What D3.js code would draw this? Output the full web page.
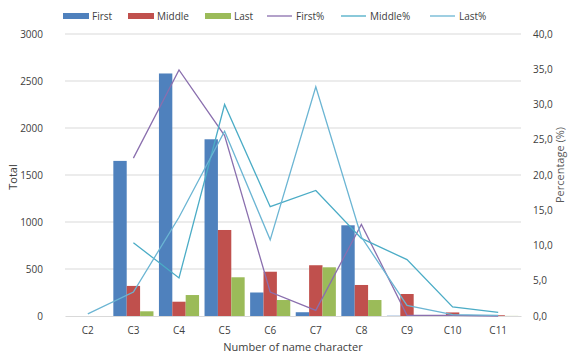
<!DOCTYPE html>
<html><head><meta charset="utf-8">
<script src="https://cdn.jsdelivr.net/npm/d3@7/dist/d3.min.js"></script>
<style>body{margin:0;background:#fff}svg{display:block}text{font-family:"Open Sans",sans-serif}</style>
</head><body>
<svg id="c" width="570" height="353"></svg>
<script>
const categories = ["C2","C3","C4","C5","C6","C7","C8","C9","C10","C11"];
const first  = [0,1650,2580,1880,250,40,965,3,5,2];
const middle = [0,320,152,915,471,540,330,234,38,8];
const last   = [0,50,223,412,170,518,170,10,3,1];
const firstPct  = [null,22.4,34.9,25.6,3.4,0.8,13.0,0.1,0.1,0.0];
const middlePct = [null,10.4,5.4,30.0,15.5,17.8,11.0,8.0,1.3,0.5];
const lastPct   = [0.3,3.4,14.0,26.2,10.8,32.5,11.2,1.5,0.2,0.1];
const leftTicks = [0,500,1000,1500,2000,2500,3000];
const rightTicks = [0,5,10,15,20,25,30,35,40];

const barSeries = [
  {name:"First", values:first, color:"#4f81bd"},
  {name:"Middle", values:middle, color:"#c0504d"},
  {name:"Last", values:last, color:"#9bbb59"}
];
const lineSeries = [
  {name:"First%", values:firstPct, color:"#8a6fae"},
  {name:"Middle%", values:middlePct, color:"#4bacc6"},
  {name:"Last%", values:lastPct, color:"#6bb5d3"}
];

const FS = 10;
const svg = d3.select("#c");
const x0 = d3.scaleBand().domain(categories).range([65,521]).paddingInner(0.12).paddingOuter(0.06);
const x1 = d3.scaleBand().domain(barSeries.map(s=>s.name)).range([0,x0.bandwidth()]);
const yL = d3.scaleLinear().domain([0,3000]).range([316,34]);
const yR = d3.scaleLinear().domain([0,40]).range([316,34]);
const xc = c => x0(c) + x0.bandwidth()/2;

// gridlines
svg.append("g").selectAll("line").data(leftTicks.filter(t=>t>0)).join("line")
  .attr("x1",65).attr("x2",521).attr("y1",d=>yL(d)).attr("y2",d=>yL(d))
  .attr("stroke","#d9d9d9").attr("stroke-width",1);

// left axis
const gl = svg.append("g").attr("transform","translate(65,0)")
  .call(d3.axisLeft(yL).tickValues(leftTicks).tickSize(0).tickPadding(22).tickFormat(d3.format("d")));
gl.select(".domain").remove();
gl.selectAll("text").attr("font-size",FS).attr("fill","#404040").attr("font-family","Open Sans");

// right axis
const gr = svg.append("g").attr("transform","translate(521,0)")
  .call(d3.axisRight(yR).tickValues(rightTicks).tickSize(0).tickPadding(12).tickFormat(d=>d3.format(".1f")(d).replace(".",",")));
gr.select(".domain").remove();
gr.selectAll("text").attr("font-size",FS).attr("fill","#404040").attr("font-family","Open Sans");

// bars
barSeries.forEach(s=>{
  svg.append("g").selectAll("rect").data(categories).join("rect")
    .attr("x",(c)=>x0(c)+x1(s.name))
    .attr("width",x1.bandwidth())
    .attr("y",(c,i)=>yL(s.values[i]))
    .attr("height",(c,i)=>yL(0)-yL(s.values[i]))
    .attr("fill",s.color);
});

// x axis
const gx = svg.append("g").attr("transform","translate(0,316)")
  .call(d3.axisBottom(x0).tickSize(0).tickPadding(11));
gx.select(".domain").attr("stroke","#d9d9d9");
gx.selectAll("text").attr("font-size",FS).attr("fill","#404040").attr("font-family","Open Sans");

// lines
lineSeries.forEach(s=>{
  const line = d3.line().defined(d=>d.v!==null).x(d=>xc(d.c)).y(d=>yR(d.v));
  svg.append("path").datum(categories.map((c,i)=>({c,v:s.values[i]})))
    .attr("d",line).attr("fill","none").attr("stroke",s.color).attr("stroke-width",1.3);
});

// axis titles
svg.append("text").attr("transform","translate(17,177) rotate(-90)").attr("text-anchor","middle")
  .attr("font-size",FS+1).attr("fill","#404040").text("Total");
svg.append("text").attr("transform","translate(564,165) rotate(-90)").attr("text-anchor","middle")
  .attr("font-size",FS+1).attr("fill","#595959").text("Percentage (%)");
svg.append("text").attr("x",293).attr("y",351).attr("text-anchor","middle")
  .attr("font-size",FS+1).attr("fill","#404040").text("Number  of name character");

// legend
const legendItems = [
  {s:barSeries[0], x:63, type:"rect"},
  {s:barSeries[1], x:128, type:"rect"},
  {s:barSeries[2], x:205, type:"rect"},
  {s:lineSeries[0], x:267, type:"line"},
  {s:lineSeries[1], x:341, type:"line"},
  {s:lineSeries[2], x:430, type:"line"}
];
const lg = svg.append("g");
legendItems.forEach(it=>{
  if(it.type==="rect"){
    lg.append("rect").attr("x",it.x).attr("y",13).attr("width",26).attr("height",6).attr("fill",it.s.color);
  } else {
    lg.append("line").attr("x1",it.x).attr("x2",it.x+25).attr("y1",16).attr("y2",16).attr("stroke",it.s.color).attr("stroke-width",1.3);
  }
  lg.append("text").attr("x",it.x+29).attr("y",19.5).attr("font-size",FS).attr("fill","#404040").text(it.s.name);
});
</script>
</body></html>
